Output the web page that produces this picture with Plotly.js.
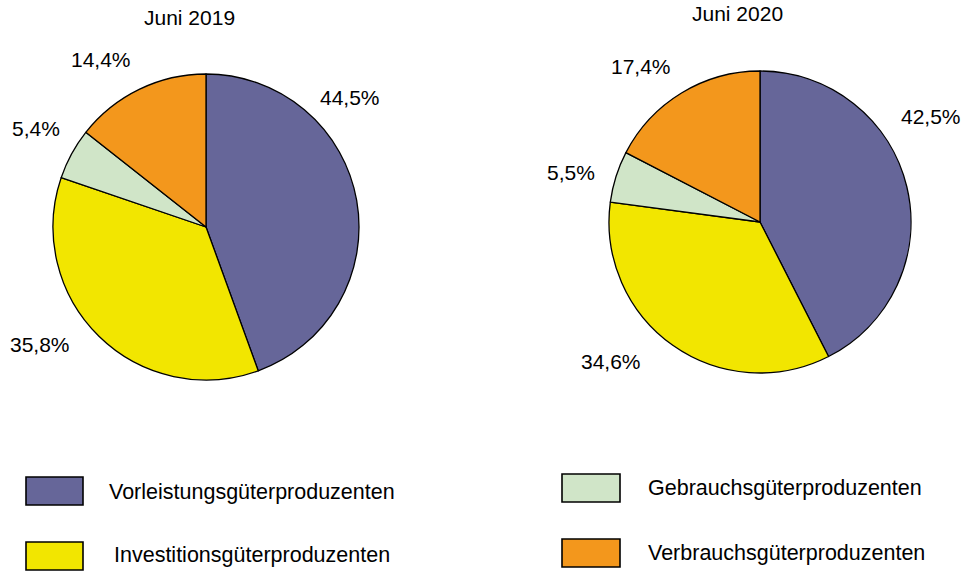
<!DOCTYPE html>
<html><head><meta charset="utf-8">
<script src="https://cdn.plot.ly/plotly-3.0.1.min.js"></script>
<style>html,body{margin:0;padding:0;background:#fff}#chart{width:966px;height:575px}</style>
</head><body><div id="chart"></div>
<script>
const categories = ["Vorleistungsgüterproduzenten","Investitionsgüterproduzenten","Gebrauchsgüterproduzenten","Verbrauchsgüterproduzenten"];
const values2019 = [44.5, 35.8, 5.4, 14.4];
const values2020 = [42.5, 34.6, 5.5, 17.4];
const titles = ["Juni 2019", "Juni 2020"];
const colors = ["#666699", "#f2e600", "#d0e5c8", "#f3971c"];

// layout (pixels)
const W = 966, H = 575;
const pies = [
  {vals: values2019, title: titles[0], cx: 206, cy: 227, r: 153, tx: 189, ty: 18,
   labelPos: [[350,98],[40,344],[36,129],[101,60]]},
  {vals: values2020, title: titles[1], cx: 760, cy: 222, r: 151, tx: 737, ty: 13,
   labelPos: [[931,116],[611,361],[571,172],[641,67]]}
];
const legendPos = [
  {bx: 26, by: 477, bw: 57, bh: 28, tx: 107, ty: 492},
  {bx: 26, by: 542, bw: 57, bh: 28, tx: 112, ty: 555},
  {bx: 562, by: 474, bw: 58, bh: 28, tx: 646, ty: 488},
  {bx: 562, by: 539, bw: 58, bh: 28, tx: 646, ty: 553}
];
const px = x => x / W, py = y => 1 - y / H;
const fmt = v => v.toFixed(1).replace('.', ',') + '%';

const font = {family: "Liberation Sans, Arial, sans-serif", color: "#000"};
const traces = pies.map(p => ({
  type: 'pie', values: p.vals, labels: categories, sort: false, direction: 'clockwise',
  rotation: 0, textinfo: 'none', hoverinfo: 'label+percent',
  marker: {colors: colors, line: {color: '#000', width: 1.3}},
  domain: {x: [px(p.cx - p.r), px(p.cx + p.r)], y: [py(p.cy + p.r), py(p.cy - p.r)]},
  showlegend: false
}));

const annotations = [];
const shapes = [];
pies.forEach(p => {
  annotations.push({text: p.title, x: px(p.tx), y: py(p.ty), xref: 'paper', yref: 'paper',
    showarrow: false, xanchor: 'center', yanchor: 'middle', font: {...font, size: 21}});
  p.vals.forEach((v, i) => {
    annotations.push({text: fmt(v), x: px(p.labelPos[i][0]), y: py(p.labelPos[i][1]),
      xref: 'paper', yref: 'paper', showarrow: false, xanchor: 'center', yanchor: 'middle',
      font: {...font, size: 21}});
  });
});
categories.forEach((c, i) => {
  const L = legendPos[i];
  shapes.push({type: 'rect', xref: 'paper', yref: 'paper', x0: px(L.bx), x1: px(L.bx + L.bw),
    y0: py(L.by + L.bh), y1: py(L.by), fillcolor: colors[i], line: {color: '#000', width: 1.6}});
  annotations.push({text: c, x: px(L.tx), y: py(L.ty), xref: 'paper', yref: 'paper',
    showarrow: false, xanchor: 'left', yanchor: 'middle', font: {...font, size: 21.5}});
});

Plotly.newPlot('chart', traces, {
  width: W, height: H, margin: {l: 0, r: 0, t: 0, b: 0},
  paper_bgcolor: '#fff', plot_bgcolor: '#fff', showlegend: false,
  annotations: annotations, shapes: shapes, font: font
}, {displayModeBar: false, staticPlot: true});
</script></body></html>
